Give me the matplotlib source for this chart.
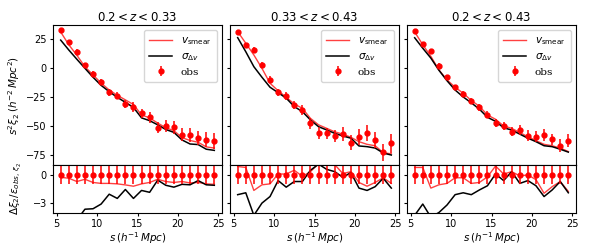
import numpy as np
import matplotlib.pyplot as plt

# separations (h^-1 Mpc)
s = [5.5, 6.5, 7.5, 8.5, 9.5, 10.5, 11.5, 12.5, 13.5, 14.5,
     15.5, 16.5, 17.5, 18.5, 19.5, 20.5, 21.5, 22.5, 23.5, 24.5]

titles = ['$0.2 < z < 0.33$', '$0.33 < z < 0.43$', '$0.2 < z < 0.43$']

# s^2 xi_2 observado
obs_1 = [33.0, 22.4, 14.1, 2.6, -5.2, -11.8, -20.9, -24.1, -31.0, -33.6,
         -39.1, -42.5, -51.4, -50.0, -51.1, -57.5, -57.5, -60.5, -62.0, -63.0]
obs_2 = [30.8, 19.5, 15.2, 2.3, -10.3, -21.0, -23.9, -31.9, -36.2, -47.7,
         -55.8, -56.3, -58.6, -57.2, -64.4, -59.5, -56.3, -62.0, -72.7, -65.0]
obs_3 = [31.6, 21.0, 14.4, 2.0, -8.0, -16.6, -22.7, -28.2, -33.9, -40.5,
         -47.7, -50.0, -54.9, -53.4, -58.3, -59.2, -57.5, -61.5, -67.0, -62.7]

err_1 = [1.0, 1.5, 2.0, 2.0, 2.5, 2.5, 3.0, 3.0, 3.5, 4.0,
         4.0, 4.5, 5.0, 5.0, 5.5, 5.5, 6.0, 6.0, 6.5, 7.0]
err_2 = [1.5, 2.0, 2.5, 2.5, 3.0, 3.0, 3.5, 3.5, 4.0, 4.5,
         5.0, 5.0, 5.5, 6.0, 6.5, 6.5, 7.0, 7.0, 7.5, 8.0]
err_3 = [1.0, 1.5, 1.5, 2.0, 2.0, 2.0, 2.5, 2.5, 3.0, 3.0,
         3.5, 3.5, 4.0, 4.0, 4.5, 4.5, 5.0, 5.0, 5.5, 5.5]

# modelo v_smear
smear_1 = [31.0, 20.0, 11.0, 1.0, -6.0, -13.0, -19.0, -23.5, -27.5, -31.5,
           -40.5, -43.0, -47.5, -51.5, -54.0, -60.0, -62.5, -64.0, -68.0, -69.0]
smear_2 = [31.3, 21.3, 11.2, -0.3, -13.2, -19.6, -25.3, -31.0, -34.8, -43.4,
           -49.0, -52.0, -55.0, -57.0, -59.7, -63.5, -65.8, -67.0, -73.0, -74.0]
smear_3 = [31.0, 20.0, 10.0, -1.7, -10.3, -16.6, -21.8, -28.0, -33.0, -40.5,
           -44.2, -50.0, -52.0, -55.7, -59.2, -62.6, -65.8, -67.0, -69.0, -72.0]

# modelo sigma_dv
sigma_1 = [24.0, 15.5, 7.5, -0.3, -8.0, -15.0, -20.4, -25.3, -29.6, -34.0,
           -43.0, -45.4, -49.0, -53.0, -55.5, -62.0, -65.5, -66.0, -70.0, -71.0]
sigma_2 = [26.1, 14.0, 1.1, -8.0, -16.6, -21.3, -26.0, -33.3, -37.6, -44.8,
           -50.6, -53.4, -56.3, -58.6, -60.5, -67.2, -67.8, -69.0, -73.3, -75.0]
sigma_3 = [26.0, 17.0, 8.5, -2.0, -11.0, -19.0, -25.0, -30.0, -35.5, -42.5,
           -46.0, -51.5, -53.5, -57.0, -60.5, -63.5, -67.0, -67.8, -70.0, -72.5]

# residuos normalizados
dsmear_1 = [-0.25, -0.35, -0.7, -0.46, -0.8, -0.9, -0.9, -0.95, -1.06, -1.2,
            -0.95, -0.8, -0.46, -0.7, -0.8, -0.7, -0.85, -0.8, -0.95, -1.0]
dsmear_2 = [0.9, 0.8, -1.65, -1.05, -0.95, 0.1, 0.1, 0.5, -0.15, 0.35,
            1.2, 1.4, 1.1, 0.15, 0.35, -0.8, -1.2, -0.8, -0.3, -0.9]
dsmear_3 = [0.8, 0.8, -1.4, -1.05, -0.9, -0.3, -0.3, -0.9, -0.8, -0.2,
            0.95, 0.1, 0.35, -0.1, 0.0, -0.5, -1.95, -1.25, -0.7, -1.75]

dsigma_1 = [-6.0, -5.5, -4.8, -3.65, -3.6, -3.1, -2.05, -2.5, -1.55, -2.5,
            -1.65, -1.85, -0.55, -1.1, -1.3, -1.0, -1.05, -0.6, -1.05, -1.1]
dsigma_2 = [-2.1, -1.9, -4.3, -3.0, -2.3, -0.6, -1.3, -0.7, -0.7, 0.5,
            1.15, 0.6, 0.35, -0.25, 0.25, -1.4, -1.65, -1.25, -0.35, -1.4]
dsigma_3 = [-4.3, -3.1, -4.5, -4.0, -3.2, -2.1, -1.9, -2.1, -1.6, -1.15,
            0.1, -0.6, 0.35, -0.9, -0.6, -1.15, -2.3, -1.6, -0.7, -1.9]

panels = [
    (obs_1, err_1, smear_1, sigma_1, dsmear_1, dsigma_1),
    (obs_2, err_2, smear_2, sigma_2, dsmear_2, dsigma_2),
    (obs_3, err_3, smear_3, sigma_3, dsmear_3, dsigma_3),
]

plt.rcParams['font.size'] = 7
plt.rcParams['xtick.labelsize'] = 7
plt.rcParams['ytick.labelsize'] = 7
plt.rcParams['xtick.major.size'] = 2.5
plt.rcParams['ytick.major.size'] = 2.5
plt.rcParams['xtick.major.pad'] = 2
plt.rcParams['ytick.major.pad'] = 2

fig = plt.figure(figsize=(6, 2.5), dpi=100)

lefts = [53 / 600, 230 / 600, 407 / 600]
width = 169 / 600

ax_top0 = None
ax_bot0 = None
for i, (obs, err, smear, sigma, dsmear, dsigma) in enumerate(panels):
    ax = fig.add_axes([lefts[i], 0.34, width, 0.56], sharey=ax_top0)
    axr = fig.add_axes([lefts[i], 0.15, width, 0.19], sharex=ax, sharey=ax_bot0)
    if ax_top0 is None:
        ax_top0, ax_bot0 = ax, axr

    ax.plot(s, smear, color='red', alpha=0.75, lw=1, label=r'$v_{\rm smear}$')
    ax.plot(s, sigma, color='black', lw=1.1, label=r'$\sigma_{\Delta v}$')
    ax.errorbar(s, obs, yerr=err, fmt='o', color='red', ms=3.5, elinewidth=1.1,
                label='obs')
    ax.set_title(titles[i], fontsize=8.5, pad=3)
    ax.tick_params(axis='x', bottom=False, labelbottom=False)
    leg = ax.legend(loc='upper right', fontsize=7.5, handlelength=2.2,
                    borderpad=0.5, labelspacing=0.4)
    leg.get_texts()[2].set_family('DejaVu Serif')

    axr.plot(s, dsmear, color='red', alpha=0.75, lw=1)
    axr.plot(s, dsigma, color='black', lw=1.1)
    axr.errorbar(s, np.zeros(len(s)), yerr=np.ones(len(s)), fmt='o', color='red',
                 ms=3.5, elinewidth=1.1)
    axr.set_xlabel(r'$s\,(h^{-1}\,Mpc)$', fontsize=7.5, labelpad=1)
    axr.set_xticks([5, 10, 15, 20, 25])

    if i == 0:
        ax.set_ylabel(r'$s^2\xi_2\,(h^{-2}\,Mpc^2)$', fontsize=7.5, labelpad=3)
        axr.set_ylabel(r'$\Delta\xi_2/\varepsilon_{obs,\,\xi_2}$', fontsize=7.5,
                       labelpad=7)
    else:
        ax.tick_params(axis='y', labelleft=False)
        axr.tick_params(axis='y', labelleft=False)

ax_top0.set_ylim(-83.6, 37)
ax_top0.set_yticks([25, 0, -25, -50, -75])
ax_bot0.set_ylim(-4.0, 1.06)
ax_bot0.set_yticks([0, -3])

fig.savefig('out.png', dpi=100)
